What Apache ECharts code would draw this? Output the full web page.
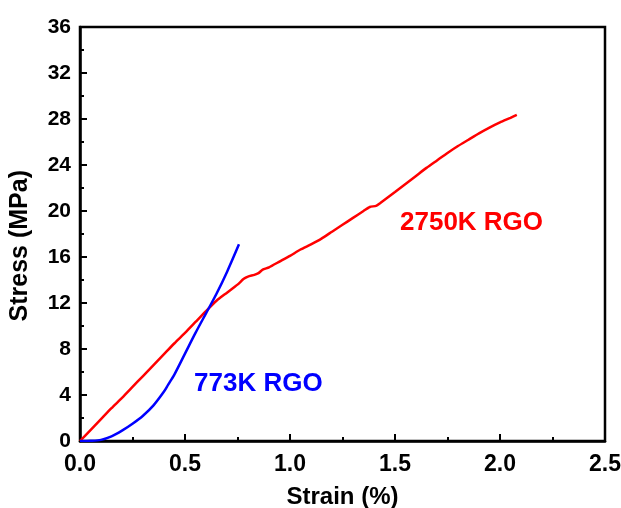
<!DOCTYPE html>
<html>
<head>
<meta charset="utf-8">
<script src="https://cdn.jsdelivr.net/npm/echarts@6/dist/echarts.min.js"></script>
<style>
html,body{margin:0;padding:0;background:#fff;}
#c{width:621px;height:508px;}
</style>
</head>
<body>
<div id="c"></div>
<script>
var redStrain = [0, 0.05, 0.1, 0.15, 0.2, 0.25, 0.3, 0.35, 0.4, 0.45, 0.5, 0.55, 0.6, 0.65, 0.7, 0.75, 0.78, 0.8, 0.83, 0.85, 0.87, 0.9, 0.95, 1.0, 1.05, 1.1, 1.15, 1.2, 1.25, 1.3, 1.35, 1.38, 1.41, 1.43, 1.5, 1.55, 1.6, 1.65, 1.7, 1.75, 1.8, 1.85, 1.9, 1.95, 2.0, 2.05, 2.08];
var redStress = [0, 0.95, 1.9, 2.85, 3.75, 4.7, 5.65, 6.6, 7.55, 8.5, 9.4, 10.35, 11.3, 12.2, 12.9, 13.6, 14.1, 14.3, 14.45, 14.6, 14.9, 15.1, 15.6, 16.1, 16.65, 17.1, 17.6, 18.2, 18.8, 19.4, 20.0, 20.35, 20.45, 20.7, 21.65, 22.35, 23.05, 23.75, 24.4, 25.05, 25.65, 26.2, 26.75, 27.25, 27.7, 28.1, 28.35];
var blueStrain = [0, 0.05, 0.1, 0.15, 0.2, 0.25, 0.3, 0.35, 0.4, 0.42, 0.45, 0.5, 0.55, 0.6, 0.65, 0.7, 0.757];
var blueStress = [0, 0.02, 0.1, 0.4, 0.9, 1.5, 2.2, 3.1, 4.3, 4.9, 5.8, 7.6, 9.4, 11.1, 12.8, 14.7, 17.1];
var yTicks = [0, 4, 8, 12, 16, 20, 24, 28, 32, 36];
var xTicks = [0.0, 0.5, 1.0, 1.5, 2.0, 2.5];
var redLabel = '2750K RGO';
var blueLabel = '773K RGO';
var xTitle = 'Strain (%)';
var yTitle = 'Stress (MPa)';

function pairs(xs, ys){ return xs.map(function(x,i){ return [x, ys[i]]; }); }

var font = '"Liberation Sans", Arial, sans-serif';
var chart = echarts.init(document.getElementById('c'), null, {renderer:'canvas'});
chart.setOption({
  animation:false,
  backgroundColor:'#fff',
  grid:{left:80, right:16, top:27, bottom:67, containLabel:false, outerBoundsMode:'none',
        show:true, borderColor:'#000', borderWidth:2.5, backgroundColor:'transparent'},
  xAxis:{
    type:'value', min:xTicks[0], max:xTicks[xTicks.length-1], interval:0.5,
    name:xTitle, nameLocation:'middle', nameGap:44,
    nameTextStyle:{fontFamily:font, fontWeight:'bold', fontSize:24, color:'#000'},
    axisLine:{show:true, onZero:false, lineStyle:{color:'#000', width:2.5}},
    axisTick:{show:true, inside:true, length:7, lineStyle:{color:'#000', width:2}},
    minorTick:{show:true, splitNumber:2, length:4, lineStyle:{color:'#000', width:2}},
    splitLine:{show:false},
    axisLabel:{fontFamily:font, fontWeight:'bold', fontSize:23, color:'#000', margin:12,
      formatter:function(v){ return v.toFixed(1); }}
  },
  yAxis:{
    type:'value', min:yTicks[0], max:yTicks[yTicks.length-1], interval:4,
    axisLine:{show:true, onZero:false, lineStyle:{color:'#000', width:2.5}},
    axisTick:{show:true, inside:true, length:7, lineStyle:{color:'#000', width:2}},
    minorTick:{show:true, splitNumber:2, length:4, lineStyle:{color:'#000', width:2}},
    splitLine:{show:false},
    axisLabel:{fontFamily:font, fontWeight:'bold', fontSize:21, color:'#000', margin:9}
  },
  graphic:[
    {type:'text', left:8, top:170, rotation:Math.PI/2, style:{text:yTitle, fontFamily:font, fontWeight:'bold', fontSize:25, fill:'#000'}},
    {type:'text', left:400, top:210, style:{text:redLabel, fontFamily:font, fontWeight:'bold', fontSize:26, fill:'#ff0000'}},
    {type:'text', left:194, top:371, style:{text:blueLabel, fontFamily:font, fontWeight:'bold', fontSize:26, fill:'#0000ff'}}
  ],
  series:[
    {type:'line', data:pairs(redStrain, redStress), showSymbol:false, smooth:0.2,
     lineStyle:{color:'#ff0000', width:2.5}, z:3},
    {type:'line', data:pairs(blueStrain, blueStress), showSymbol:false, smooth:0.3,
     lineStyle:{color:'#0000ff', width:2.5}, z:4}
  ]
});
</script>
</body>
</html>
